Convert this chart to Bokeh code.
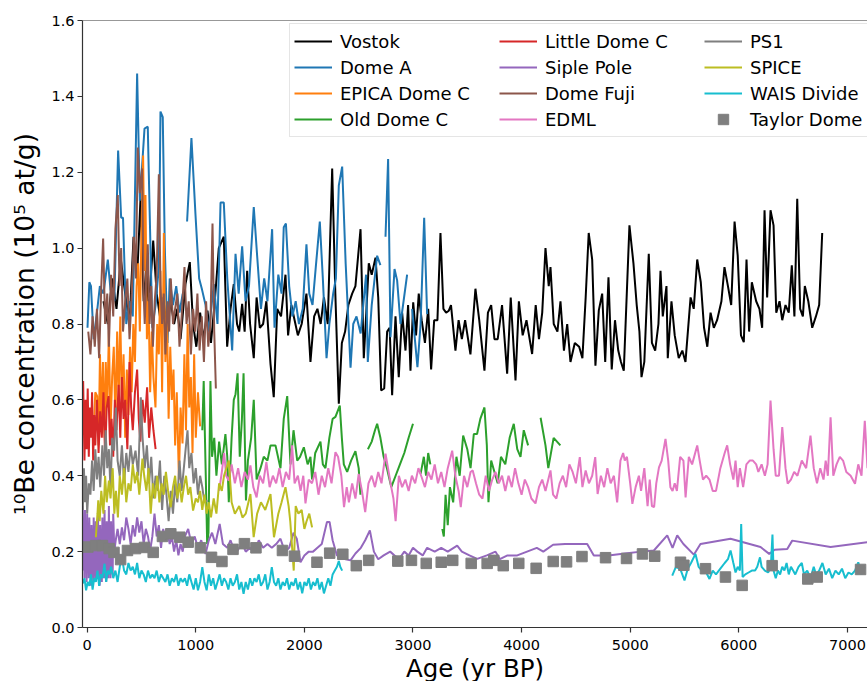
from bokeh.plotting import figure
from bokeh.models import Legend, LegendItem, FixedTicker, PrintfTickFormatter, Span
from bokeh.embed import file_html
from bokeh.resources import INLINE

NAN = float("nan")

# ---------------- data (age in yr BP, 10Be in 1e5 at/g) ----------------
vostok = [(150,0.86),(190,0.80),(230,0.92),(270,0.84),(310,0.97),(350,0.88),(390,0.80),(427,1.03),(460,0.92),(491,1.13),
          (520,0.86),(545,0.95),(567,0.84),(608,1.02),(640,0.88),(670,0.82),(700,0.87),(735,0.79),(770,0.86),(800,0.80),
          (830,0.84),(860,0.76),(905,0.905),(945,0.963),(975,0.80),(1005,0.74),(1040,0.83),(1070,0.76),(1108,0.835),(1140,0.75),
          (1175,0.86),(1212,1.00),(1258,1.03),(1289,0.74),(1320,0.84),(1350,0.905),(1380,0.80),(1400,0.78),(1427,0.853),(1450,0.78),
          (1473,0.94),(1500,0.80),(1534,0.71),(1560,0.87),(1590,0.79),(1620,0.80),(1650,0.86),(1688,0.695),(1718,0.607),(1750,0.84),
          (1785,0.82),(1826,0.93),(1850,0.77),(1880,0.85),(1910,0.81),(1940,0.77),(1975,0.80),(2019,0.88),(2056,0.70),(2090,0.82),
          (2120,0.84),(2150,0.80),(2180,0.87),(2215,0.80),(2256,1.21),(2285,0.88),(2317,0.59),(2345,0.75),(2375,0.78),(2405,0.85),
          (2440,0.88),(2470,0.90),(2517,1.05),(2547,0.71),(2570,0.83),(2593,0.96),(2620,0.93),(2655,0.975),(2680,0.87),(2707,0.625),
          (2735,0.63),(2762,0.78),(2785,0.79),(2808,0.612),(2839,0.82),(2869,0.66),(2900,0.83),(2931,0.73),(2955,0.85),(2977,0.677),
          (3002,0.857),(3028,0.77),(3053,0.88),(3080,0.81),(3110,0.75),(3140,0.84),(3167,0.68),(3195,0.81),(3225,0.81),(3253,1.04),
          (3280,0.84),(3305,0.83),(3330,0.835),(3350,0.85),(3391,0.73),(3420,0.81),(3450,0.76),(3480,0.81),(3529,0.72),(3575,0.893),
          (3610,0.81),(3658,0.677),(3690,0.83),(3720,0.85),(3750,0.76),(3780,0.76),(3820,0.85),(3867,0.669),(3900,0.87),(3944,0.651),
          (3975,0.86),(4010,0.77),(4045,0.81),(4097,0.721),(4130,0.85),(4160,0.76),(4190,0.83),(4220,1.00),(4250,0.90),(4266,0.95),
          (4296,0.80),(4330,0.78),(4358,0.86),(4390,0.73),(4420,0.80),(4450,0.70),(4490,0.75),(4530,0.74),(4560,0.71),(4590,0.87),
          (4618,1.04),(4650,0.97),(4680,0.69),(4711,0.836),(4742,0.88),(4770,0.70),(4800,0.923),(4830,0.68),(4860,0.81),(4890,0.73),
          (4915,0.70),(4941,0.677),(4993,1.06),(5030,0.96),(5060,0.85),(5085,0.78),(5104,0.66),(5130,0.70),(5171,0.985),(5200,0.75),
          (5230,0.73),(5260,0.80),(5279,0.94),(5300,0.82),(5334,0.90),(5346,0.71),(5380,0.86),(5410,0.77),(5447,0.71),(5480,0.73),
          (5509,0.70),(5556,0.87),(5585,0.84),(5617,0.97),(5650,0.91),(5680,0.79),(5710,0.74),(5740,0.83),(5770,0.79),(5800,0.81),
          (5840,0.86),(5868,0.95),(5900,0.90),(5930,0.85),(5961,1.07),(5990,0.98),(6020,0.77),(6046,0.752),(6071,0.97),(6095,0.78),
          (6120,0.91),(6160,0.86),(6190,0.84),(6215,0.79),(6237,1.10),(6261,0.87),(6292,1.10),(6320,1.06),(6345,0.83),(6375,0.86),
          (6400,0.81),(6430,0.85),(6460,0.83),(6488,0.955),(6512,0.82),(6538,1.13),(6565,0.84),(6590,0.82),(6608,0.90),(6640,0.86),
          (6676,0.79),(6710,0.82),(6740,0.85),(6768,1.04)]

dome_a = [(3,0.79),(20,0.91),(35,0.90),(60,0.76),(92,0.835),(117,0.90),(150,0.88),(190,0.97),(215,0.89),(250,0.86),
          (285,1.257),(313,1.08),(330,1.08),(360,0.80),(390,0.86),(420,0.82),(460,1.46),(485,1.125),(528,1.315),(558,1.32),
          (575,1.10),(600,0.79),(630,0.85),(660,0.95),(675,1.36),(696,1.345),(715,1.00),(740,0.75),(760,0.92),(790,0.85),
          (820,0.90),(850,0.83),(880,0.88),(900,NAN),(920,1.07),(960,1.29),(997,1.09),(1031,0.92),(1058,0.89),(1090,0.85),
          (1120,0.78),(1166,0.905),(1200,0.80),(1228,1.12),(1258,1.12),(1290,0.92),(1335,0.73),(1366,0.985),(1395,0.88),(1427,1.005),
          (1458,0.86),(1490,0.90),(1534,1.108),(1565,0.98),(1600,0.84),(1630,0.92),(1660,0.86),(1703,1.05),(1725,0.79),(1760,0.93),
          (1790,0.88),(1810,1.055),(1830,1.065),(1860,0.90),(1890,0.82),(1920,0.86),(1950,0.80),(1985,0.84),(2019,1.01),(2045,0.88),
          (2075,0.85),(2105,0.95),(2142,1.07),(2170,0.92),(2204,0.71),(2230,0.80),(2265,0.88),(2290,0.92),(2317,1.165),(2348,1.215),
          (2380,0.96),(2425,0.685),(2450,0.80),(2480,0.82),(2518,0.775),(2568,0.93),(2584,0.70),(2620,0.85),(2670,0.98),(2700,0.955),
          (2720,NAN),(2747,1.03),(2771,1.235),(2793,0.765),(2830,0.945),(2854,0.915),(2885,0.80),(2946,0.93),(2970,NAN),(2992,0.84),
          (3041,0.686),(3070,0.80),(3103,1.08),(3130,0.826)]

epica_dc = [(60,0.52),(75,0.62),(92,0.61),(105,0.48),(118,0.72),(130,0.55),(145,0.70),(160,0.50),(171,0.70),(185,0.58),
            (200,0.78),(215,0.52),(230,0.66),(245,0.74),(260,0.54),(276,0.78),(290,0.60),(305,0.82),(320,0.58),(335,0.72),
            (350,0.50),(365,0.68),(380,0.56),(395,0.74),(410,0.62),(425,0.80),(440,0.70),(455,0.90),(470,0.96),(485,0.78),
            (500,1.05),(515,1.244),(528,0.94),(537,1.14),(550,0.76),(565,0.86),(580,0.62),(595,0.78),(610,0.66),(629,0.58),
            (645,0.80),(660,0.72),(675,0.94),(690,0.62),(706,1.04),(720,0.70),(735,0.82),(750,0.55),(765,0.74),(780,0.60),
            (795,0.68),(810,0.48),(825,0.62),(845,0.39),(860,0.58),(878,0.485),(895,0.72),(910,0.52),(925,0.80),(940,0.58),
            (955,0.66),(970,0.46),(985,0.72),(1000,0.50),(1020,0.62),(1040,0.53)]

old_dc = [(1060,0.52),(1073,0.65),(1092,0.40),(1105,0.22),(1117,0.25),(1135,0.65),(1150,0.45),(1170,0.50),(1190,0.40),(1215,0.49),
          (1240,0.43),(1273,0.51),(1290,0.45),(1304,0.33),(1330,0.50),(1350,0.60),(1366,0.615),(1385,0.67),(1405,0.45),(1425,0.55),
          (1440,0.67),(1462,0.335),(1480,0.44),(1510,0.50),(1534,0.60),(1560,0.39),(1596,0.42),(1626,0.45),(1660,0.44),(1688,0.48),
          (1734,0.48),(1780,0.42),(1810,0.55),(1842,0.61),(1872,0.43),(1900,0.52),(1934,0.44),(1960,0.45),(1995,0.475),(2030,0.43),
          (2056,0.45),(2071,0.39),(2100,0.46),(2148,0.49),(2170,0.43),(2194,0.42),(2230,0.50),(2260,0.55),(2286,0.555),(2326,0.585),
          (2345,0.50),(2363,0.43),(2394,0.41),(2430,0.44),(2470,0.465),(2500,0.42),(2516,0.35),(2550,NAN),(2585,0.47),(2620,0.49),
          (2650,0.52),(2670,0.537),(2700,0.50),(2730,0.45),(2760,0.42),(2800,0.37),(2840,0.40),(2880,0.43),(2920,0.46),(2960,0.50),
          (3000,0.537),(3035,NAN),(3070,0.405),(3100,0.45),(3120,0.40),(3140,0.46),(3160,0.43),(3215,NAN),(3270,0.26),(3284,0.24),
          (3300,0.35),(3320,0.27),(3340,0.37),(3370,0.33),(3400,0.45),(3430,0.40),(3462,0.506),(3500,0.47),(3530,0.42),(3560,0.51),
          (3590,0.51),(3620,0.55),(3658,0.58),(3680,0.48),(3695,0.33),(3720,0.44),(3750,0.41),(3780,0.38),(3810,0.45),(3850,0.43),
          (3890,0.50),(3928,0.537),(3960,0.47),(3990,0.45),(4020,0.52),(4060,0.48),(4120,NAN),(4175,0.553),(4220,0.48),(4246,0.42),
          (4295,0.50),(4357,0.48)]

little_dc = [(-37,0.65),(-25,0.44),(-15,0.60),(-5,0.47),(5,0.63),(15,0.45),(25,0.58),(35,0.50),(45,0.62),(55,0.44),
             (65,0.56),(75,0.48),(90,0.60),(105,0.46),(120,0.57),(135,0.50),(150,0.62),(165,0.45),(180,0.58),(197,0.61),
             (210,0.48),(225,0.55),(240,0.45),(255,0.60),(270,0.52),(290,0.64),(305,0.50),(320,0.66),(335,0.55),(350,0.60),
             (370,0.47),(390,0.70),(405,0.58),(420,0.52),(440,0.62),(460,0.68),(475,0.55),(490,0.49),(510,0.60),(530,0.54),
             (552,0.633),(570,0.50),(590,0.58),(610,0.52),(630,0.47)]

siple = [(-40,0.32),(-35,0.15),(-30,0.28),(-25,0.13),(-20,0.31),(-15,0.16),(-10,0.26),(-5,0.12),(0,0.30),(5,0.17),
         (10,0.24),(15,0.13),(20,0.29),(25,0.15),(30,0.22),(35,0.11),(40,0.27),(45,0.16),(50,0.24),(55,0.12),
         (60,0.29),(65,0.17),(70,0.21),(75,0.12),(80,0.28),(85,0.15),(90,0.25),(95,0.13),(100,0.30),(105,0.16),
         (110,0.22),(115,0.11),(120,0.27),(125,0.15),(130,0.23),(135,0.12),(140,0.29),(145,0.17),(150,0.25),(155,0.13),
         (160,0.31),(165,0.16),(170,0.22),(175,0.12),(180,0.28),(185,0.15),(190,0.26),(195,0.13),(200,0.32),(205,0.17),
         (210,0.24),(215,0.13),(220,0.28),(225,0.16),(230,0.25),(235,0.14),(240,0.30),(250,0.20),(263,0.23),(280,0.26),
         (300,0.22),(320,0.264),(340,0.23),(360,0.29),(380,0.26),(400,0.22),(420,0.27),(440,0.24),(460,0.29),(480,0.25),
         (500,0.28),(520,0.22),(540,0.26),(560,0.24),(580,0.203),(600,0.24),(620,0.30),(640,0.24),(660,0.27),(680,0.21),
         (700,0.26),(720,0.23),(740,0.25),(760,0.22),(780,0.24),(800,0.20),(820,0.23),(840,0.19),(860,0.22),(880,0.20),
         (900,0.24),(930,0.26),(960,0.22),(990,0.24),(1020,0.21),(1050,0.23),(1090,0.194),(1120,0.23),(1150,0.25),(1180,0.22),
         (1220,0.273),(1250,0.22),(1290,0.21),(1320,0.23),(1366,0.194),(1400,0.21),(1430,0.22),(1460,0.20),(1500,0.21),(1540,0.20),
         (1580,0.23),(1620,0.21),(1660,0.22),(1700,0.21),(1740,0.22),(1780,0.234),(1820,0.20),(1860,0.21),(1900,0.25),(1930,0.234),
         (1964,0.172),(2000,0.19),(2040,0.20),(2080,0.20),(2120,0.21),(2160,0.22),(2208,0.278),(2232,0.278),(2260,0.23),(2300,0.19),
         (2340,0.185),(2380,0.18),(2425,0.177),(2470,0.195),(2520,0.21),(2560,0.23),(2603,0.256),(2640,0.20),(2680,0.18),(2730,0.19),
         (2790,0.20),(2830,0.19),(2870,0.18),(2920,0.20),(2960,0.19),(3000,0.21),(3040,0.20),(3090,0.19),(3130,0.21),(3200,0.20),
         (3260,0.21),(3320,0.20),(3407,0.216),(3450,0.20),(3520,0.19),(3591,0.181),(3680,0.19),(3760,0.20),(3800,0.18),(3870,0.19),
         (3960,0.19),(4050,0.20),(4140,0.21),(4200,0.20),(4290,0.218),(4400,0.22),(4500,0.22),(4604,0.22),(4665,0.19),(4800,0.19),
         (4950,0.195),(5100,0.20),(5218,0.203),(5341,0.243),(5390,0.21),(5433,0.243),(5490,0.22),(5586,0.192),(5647,0.22),(5924,0.234),
         (6200,0.212),(6280,0.194),(6330,0.205),(6446,0.207),(6492,0.229),(6845,0.212),(7182,0.225)]

dome_fuji = [(10,0.78),(30,0.72),(50,0.82),(70,0.74),(90,0.84),(110,0.71),(130,0.90),(147,1.025),(165,0.80),(185,0.88),
             (200,0.74),(220,0.93),(240,0.82),(260,1.05),(282,1.14),(298,0.90),(313,1.00),(330,0.78),(350,0.86),(370,0.92),
             (390,0.76),(410,0.88),(430,1.03),(448,0.92),(466,1.265),(485,1.145),(506,1.21),(520,0.88),(530,0.80),(545,0.92),
             (558,1.01),(575,0.80),(590,0.90),(605,0.74),(622,0.86),(640,0.93),(660,1.195),(675,0.90),(690,0.80),(705,0.88),
             (720,0.72),(740,0.86),(755,0.78),(770,0.92),(790,0.80),(810,0.84),(830,0.88),(850,0.74),(870,0.82),(896,0.95),
             (915,0.80),(935,0.86),(955,0.72),(975,0.84),(995,0.78),(1015,0.88),(1035,0.73),(1055,0.82),(1075,0.70),(1095,0.86),
             (1115,0.74),(1135,0.80),(1154,1.065),(1170,0.78),(1185,0.63)]

edml = [(1215,0.36),(1240,0.41),(1261,0.46),(1280,0.40),(1304,0.387),(1330,0.43),(1360,0.38),(1390,0.42),(1420,0.37),(1450,0.41),
        (1480,0.39),(1503,0.427),(1530,0.37),(1560,0.343),(1590,0.40),(1620,0.38),(1650,0.436),(1680,0.37),(1710,0.40),(1740,0.38),
        (1770,0.42),(1800,0.37),(1830,0.41),(1860,0.39),(1887,0.48),(1910,0.38),(1940,0.40),(1965,0.36),(1990,0.40),(2010,0.327),
        (2040,0.39),(2070,0.38),(2100,0.41),(2130,0.35),(2160,0.40),(2190,0.37),(2220,0.42),(2250,0.38),(2286,0.462),(2310,0.45),
        (2340,0.40),(2365,0.317),(2390,0.37),(2410,0.33),(2440,0.38),(2470,0.34),(2500,0.405),(2530,0.36),(2560,0.304),(2590,0.38),
        (2620,0.40),(2650,0.37),(2680,0.41),(2710,0.38),(2747,0.458),(2770,0.42),(2800,0.37),(2820,0.34),(2840,0.28),(2870,0.40),
        (2900,0.37),(2930,0.39),(2960,0.36),(2990,0.40),(3020,0.38),(3050,0.42),(3080,0.396),(3110,0.37),(3140,0.41),(3170,0.39),
        (3200,0.43),(3230,0.38),(3260,0.41),(3290,0.37),(3320,0.42),(3361,0.466),(3390,0.40),(3420,0.36),(3440,0.317),(3470,0.40),
        (3500,0.37),(3530,0.41),(3550,0.414),(3580,0.38),(3610,0.35),(3640,0.34),(3670,0.40),(3700,0.36),(3730,0.39),(3760,0.41),
        (3790,0.38),(3820,0.40),(3850,0.36),(3880,0.40),(3910,0.37),(3940,0.42),(3970,0.38),(4000,0.35),(4030,0.39),(4060,0.37),
        (4090,0.34),(4128,0.327),(4160,0.37),(4190,0.39),(4220,0.36),(4266,0.414),(4290,0.35),(4320,0.34),(4350,0.38),(4380,0.40),
        (4410,0.37),(4440,0.43),(4470,0.41),(4500,0.38),(4536,0.449),(4560,0.37),(4590,0.414),(4620,0.38),(4650,0.40),(4678,0.449),
        (4700,0.352),(4730,0.40),(4760,0.37),(4790,0.42),(4820,0.38),(4850,0.40),(4880,0.33),(4910,0.44),(4935,0.46),(4950,0.44),
        (4970,0.45),(5000,0.38),(5020,0.326),(5050,0.37),(5080,0.40),(5100,0.36),(5130,0.42),(5160,0.32),(5180,0.39),(5200,0.32),
        (5220,0.317),(5240,0.38),(5265,0.422),(5290,0.44),(5325,0.497),(5350,0.44),(5370,0.37),(5390,0.36),(5410,0.38),(5430,0.36),
        (5460,0.45),(5490,0.44),(5510,0.343),(5540,0.45),(5570,0.43),(5617,0.48),(5640,0.44),(5670,0.39),(5700,0.40),(5730,0.39),
        (5760,0.36),(5790,0.36),(5830,0.42),(5870,0.46),(5893,0.48),(5920,0.43),(5950,0.39),(5970,0.44),(5990,0.37),(6010,0.42),
        (6040,0.37),(6070,0.43),(6100,0.44),(6130,0.44),(6160,0.43),(6180,0.41),(6210,0.43),(6240,0.40),(6265,0.43),(6292,0.598),
        (6320,0.47),(6340,0.40),(6370,0.40),(6400,0.528),(6430,0.42),(6450,0.379),(6480,0.39),(6510,0.41),(6540,0.40),(6580,0.44),
        (6620,0.42),(6660,0.506),(6690,0.42),(6720,0.38),(6750,0.42),(6780,0.39),(6800,0.44),(6820,0.40),(6845,0.554),(6870,0.40),
        (6900,0.43),(6930,0.45),(6960,0.44),(6990,0.41),(7030,0.40),(7070,0.379),(7100,0.43),(7130,0.40),(7160,0.545),(7185,0.42)]

ps1 = [(-40,0.31),(-30,0.42),(-20,0.33),(-10,0.40),(0,0.30),(15,0.38),(30,0.35),(45,0.44),(60,0.36),(75,0.47),
       (90,0.39),(105,0.45),(120,0.37),(140,0.48),(155,0.40),(170,0.52),(185,0.42),(200,0.47),(215,0.36),(230,0.50),
       (248,0.466),(264,0.58),(280,0.44),(300,0.40),(320,0.48),(340,0.38),(360,0.46),(380,0.41),(400,0.48),(420,0.43),
       (445,0.466),(470,0.40),(494,0.607),(510,0.50),(530,0.42),(550,0.48),(570,0.38),(590,0.45),(610,0.34),(630,0.40),
       (650,0.36),(670,0.44),(690,0.31),(710,0.40),(730,0.35),(750,0.28),(770,0.36),(790,0.30),(810,0.38),(830,0.33),
       (850,0.44),(870,0.36),(890,0.42),(910,0.48),(924,0.52),(940,0.42),(960,0.46),(980,0.38),(1000,0.42),(1020,0.35),
       (1040,0.40),(1060,0.37),(1080,0.33),(1108,0.335)]

spice = [(80,0.238),(95,0.30),(102,0.335),(115,0.28),(130,0.36),(150,0.30),(165,0.40),(180,0.33),(200,0.387),(215,0.34),
         (235,0.42),(250,0.30),(265,0.36),(283,0.29),(300,0.40),(320,0.35),(340,0.42),(360,0.33),(380,0.38),(400,0.36),
         (420,0.43),(440,0.38),(460,0.41),(480,0.35),(509,0.445),(525,0.40),(545,0.36),(565,0.42),(585,0.30),(605,0.38),
         (625,0.34),(645,0.40),(665,0.33),(685,0.38),(705,0.35),(725,0.41),(745,0.36),(770,0.317),(790,0.37),(810,0.40),
         (830,0.34),(850,0.38),(870,0.33),(890,0.37),(910,0.40),(930,0.35),(950,0.37),(975,0.308),(1000,0.34),(1020,0.33),
         (1040,0.36),(1060,0.31),(1080,0.35),(1100,0.30),(1120,0.33),(1140,0.29),(1165,0.34),(1190,0.30),(1215,0.38),(1240,0.36),
         (1260,0.40),(1275,0.414),(1304,0.44),(1330,0.33),(1360,0.30),(1400,0.32),(1430,0.29),(1460,0.30),(1503,0.352),(1533,0.238),
         (1565,0.30),(1600,0.33),(1640,0.31),(1688,0.352),(1720,0.238),(1760,0.30),(1790,0.33),(1826,0.37),(1855,0.32),(1870,0.28),
         (1902,0.15),(1920,0.32),(1945,0.30),(1975,0.31),(2000,0.26),(2020,0.28),(2045,0.30),(2071,0.264)]

wais = [(-40,0.116),(-25,0.13),(-10,0.098),(5,0.12),(20,0.11),(35,0.14),(50,0.10),(65,0.13),(80,0.12),(95,0.15),
        (110,0.11),(125,0.14),(140,0.13),(160,0.168),(175,0.12),(190,0.15),(205,0.14),(220,0.16),(240,0.13),(260,0.15),
        (280,0.12),(300,0.16),(320,0.185),(340,0.15),(360,0.14),(380,0.17),(400,0.15),(420,0.16),(440,0.14),(460,0.17),
        (480,0.13),(500,0.15),(520,0.14),(540,0.12),(560,0.15),(580,0.13),(600,0.14),(620,0.13),(640,0.15),(660,0.12),
        (680,0.14),(700,0.13),(720,0.12),(740,0.14),(760,0.11),(780,0.13),(800,0.12),(820,0.14),(840,0.11),(860,0.13),
        (880,0.12),(900,0.13),(920,0.11),(940,0.14),(960,0.12),(980,0.10),(1000,0.13),(1020,0.098),(1040,0.12),(1060,0.159),
        (1080,0.12),(1100,0.098),(1120,0.14),(1140,0.11),(1160,0.13),(1180,0.10),(1200,0.12),(1220,0.14),(1240,0.11),(1260,0.13),
        (1280,0.12),(1300,0.10),(1320,0.13),(1340,0.11),(1360,0.12),(1380,0.14),(1400,0.10),(1420,0.12),(1440,0.089),(1460,0.12),
        (1480,0.10),(1500,0.13),(1520,0.11),(1540,0.13),(1560,0.12),(1580,0.14),(1600,0.11),(1620,0.12),(1640,0.14),(1660,0.10),
        (1680,0.12),(1700,0.159),(1720,0.12),(1740,0.11),(1760,0.13),(1780,0.10),(1800,0.12),(1820,0.11),(1840,0.13),(1860,0.10),
        (1880,0.12),(1900,0.11),(1920,0.13),(1940,0.10),(1960,0.12),(1980,0.09),(2000,0.12),(2020,0.11),(2040,0.13),(2060,0.10),
        (2080,0.12),(2100,0.11),(2120,0.13),(2140,0.10),(2160,0.12),(2180,0.09),(2200,0.11),(2220,0.13),(2240,0.11),(2260,0.14),
        (2280,0.15),(2300,0.16),(2317,0.175),(2330,0.16),(2348,0.15),(3800,NAN),(5387,0.137),(5420,0.159),(5460,0.155),(5500,0.124),
        (5530,0.155),(5560,0.17),(5601,0.194),(5630,0.16),(5660,0.15),(5700,0.145),(5730,0.128),(5760,0.15),(5790,0.14),(5830,0.155),
        (5870,0.17),(5900,0.18),(5924,0.203),(5950,0.17),(5970,0.145),(5990,0.16),(6010,0.15),(6022,0.273),(6035,0.133),(6060,0.14),
        (6090,0.145),(6120,0.15),(6150,0.15),(6170,0.16),(6195,0.185),(6210,0.16),(6240,0.15),(6270,0.145),(6295,0.16),(6310,0.245),
        (6320,0.15),(6340,0.13),(6360,0.15),(6380,0.14),(6400,0.16),(6420,0.15),(6440,0.17),(6460,0.14),(6480,0.16),(6500,0.15),
        (6520,0.14),(6550,0.16),(6580,0.17),(6600,0.14),(6630,0.15),(6660,0.13),(6690,0.16),(6710,0.14),(6740,0.15),(6770,0.17),
        (6800,0.14),(6830,0.155),(6860,0.13),(6890,0.15),(6920,0.14),(6950,0.155),(6980,0.13),(7010,0.145),(7040,0.14),(7070,0.15),
        (7100,0.172),(7130,0.14),(7160,0.16)]

taylor_dome = [(6,0.212),(79,0.216),(141,0.216),(203,0.208),(247,0.198),(308,0.179),(371,0.203),(445,0.208),(528,0.211),(608,0.198),
               (693,0.240),(770,0.247),(853,0.238),(930,0.225),(1043,0.210),(1145,0.185),(1241,0.174),(1343,0.206),(1448,0.221),(1554,0.210),
               (1798,0.203),(1909,0.188),(2116,0.172),(2233,0.196),(2354,0.193),(2478,0.163),(2592,0.177),(2860,0.175),(2986,0.177),(3122,0.169),
               (3260,0.172),(3366,0.177),(3536,0.169),(3683,0.169),(3744,0.177),(3831,0.163),(3974,0.169),(4134,0.156),(4291,0.174),(4414,0.173),
               (4556,0.187),(4773,0.184),(4966,0.182),(5113,0.194),(5226,0.188),(5463,0.172),(5494,0.164),(5693,0.155),(5877,0.133),(6031,0.111),
               (6307,0.163),(6635,0.128),(6722,0.133),(7121,0.153)]

x_ticks = [0, 1000, 2000, 3000, 4000, 5000, 6000, 7000]
y_ticks = [0.0, 0.2, 0.4, 0.6, 0.8, 1.0, 1.2, 1.4, 1.6]

series = [
    ("Vostok", vostok, "#000000"),
    ("Dome A", dome_a, "#1f77b4"),
    ("EPICA Dome C", epica_dc, "#ff7f0e"),
    ("Old Dome C", old_dc, "#2ca02c"),
    ("Little Dome C", little_dc, "#d62728"),
    ("Siple Pole", siple, "#9467bd"),
    ("Dome Fuji", dome_fuji, "#8c564b"),
    ("EDML", edml, "#e377c2"),
    ("PS1", ps1, "#7f7f7f"),
    ("SPICE", spice, "#bcbd22"),
    ("WAIS Divide", wais, "#17becf"),
]

FONT = "DejaVu Sans"
AX = "#333333"

p = figure(frame_width=785, frame_height=607, x_range=(-43, 7185), y_range=(0, 1.6),
           output_backend="svg", toolbar_location=None,
           min_border_left=82, min_border_right=0, min_border_top=20, min_border_bottom=54)
p.outline_line_color = None
p.xgrid.visible = False
p.ygrid.visible = False
p.background_fill_color = "white"
p.border_fill_color = "white"

items = []
for name, data, color in series:
    xs = [d[0] for d in data]
    ys = [d[1] for d in data]
    r = p.line(xs, ys, line_color=color, line_width=2)
    items.append(LegendItem(label=name, renderers=[r]))

tx = [d[0] for d in taylor_dome]
ty = [d[1] for d in taylor_dome]
rs = p.scatter(tx, ty, marker="square", size=10.5, fill_color="#7f7f7f", line_color="#7f7f7f")
items.append(LegendItem(label="Taylor Dome", renderers=[rs]))

p.add_layout(Span(location=1.6, dimension="width", line_color=AX, line_width=1.2))

for ax in (p.xaxis[0], p.yaxis[0]):
    ax.axis_line_color = AX
    ax.axis_line_width = 1.2
    ax.major_tick_line_color = AX
    ax.major_tick_line_width = 1.2
    ax.major_tick_in = 0
    ax.major_tick_out = 5
    ax.minor_tick_line_color = None
    ax.major_label_text_font = FONT
    ax.major_label_text_font_size = "14.5px"
    ax.major_label_text_color = "black"
    ax.axis_label_text_font = FONT
    ax.axis_label_text_font_style = "normal"
    ax.axis_label_text_color = "black"

p.xaxis.axis_label_text_font_size = "24.5px"
p.yaxis.axis_label_text_font_size = "26.5px"
p.xaxis.ticker = FixedTicker(ticks=x_ticks)
p.yaxis.ticker = FixedTicker(ticks=y_ticks)
p.yaxis.formatter = PrintfTickFormatter(format="%.1f")
p.xaxis.axis_label = "Age (yr BP)"
p.yaxis.axis_label = "\u00b9\u2070Be concentration (10\u2075 at/g)"
p.xaxis.major_label_standoff = 7
p.xaxis.axis_label_standoff = 1
p.yaxis.major_label_standoff = 3
p.yaxis.axis_label_standoff = 8

legend = Legend(items=items, location=(207, 490), nrows=4,
                label_text_font=FONT, label_text_font_size="18px", label_text_color="black",
                glyph_width=38, glyph_height=26, label_standoff=8, label_width=159, spacing=0,
                padding=4, margin=0,
                background_fill_color="white", background_fill_alpha=0.8,
                border_line_color="#cccccc", border_line_width=1)
p.add_layout(legend)

open("out.html", "w").write(file_html(p, INLINE))
